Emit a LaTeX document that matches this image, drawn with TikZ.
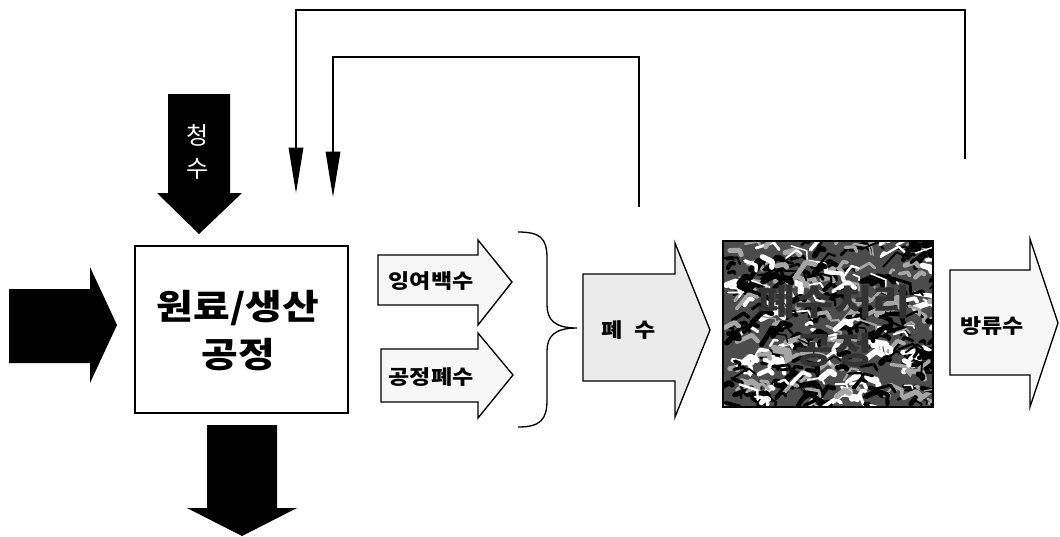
\documentclass[tikz,border=0pt]{standalone}
\usepackage{fontspec}
\newfontfamily\kr{Noto Sans CJK KR}[FakeStretch=1.15]
\newfontfamily\krn{Noto Sans CJK KR}
\usetikzlibrary{arrows.meta}
\begin{document}
\begin{tikzpicture}[x=0.75pt,y=-0.75pt,
  outl/.style={draw=black,line width=1pt,line join=miter},
  blk/.style={fill=black},
  lite/.style={outl,fill=black!3},
  lbl/.style={font=\kr\bfseries\fontsize{15}{17}\selectfont,inner sep=0pt},
  biglbl/.style={font=\kr\bfseries\fontsize{26}{36}\selectfont,align=center,inner sep=0pt},
  fb/.style={line width=0.9pt,-{Triangle[length=34pt,width=11pt]}}]
\useasboundingbox (0,0) rectangle (1060,536);

% left black input arrow
\path[blk] (9,289) -- (90,289) -- (90,267) -- (117,325) -- (90,383) -- (90,363) -- (9,363) -- cycle;
% clean water arrow
\path[blk] (168,94) -- (230,94) -- (230,193) -- (242,193) -- (199,234) -- (157,193) -- (168,193) -- cycle;
\node[font=\krn\fontsize{18}{22}\selectfont,text=white,align=center,inner sep=0pt] (cw) at (198,152) {청\\[3pt]수};
% bottom black arrow
\path[blk] (207,425) -- (277,425) -- (277,508) -- (297,508) -- (242,536) -- (187,508) -- (207,508) -- cycle;

% production process box
\node[outl,fill=white,minimum width=159.75pt,minimum height=125.25pt] (prod) at (241.5,329.5) {};
\node[biglbl] (prodt) at (238,331) {원료/생산\\공정};

% 잉여백수 arrow
\draw[lite] (378,255) -- (478,255) -- (478,240) -- (512,282) -- (478,325) -- (478,305) -- (378,305) -- cycle;
\node[lbl] (surplus) at (431,281) {잉여백수};
% 공정폐수 arrow
\draw[lite] (381,349) -- (478,349) -- (478,333) -- (513,375) -- (478,418) -- (478,402) -- (381,402) -- cycle;
\node[lbl] (procww) at (431,377) {공정폐수};

% brace
\draw[line width=1pt] (518,232) .. controls (540,232) and (547,238) .. (547,258) -- (547,305)
  .. controls (547,320) and (555,328) .. (577,328)
  .. controls (555,328) and (547,336) .. (547,351) -- (547,400)
  .. controls (547,420) and (540,427) .. (518,427);

% 폐수 arrow
\draw[outl,fill=black!8] (583,274) -- (675,274) -- (675,243) -- (710,330) -- (675,417) -- (675,381) -- (583,381) -- cycle;
\node[lbl] (ww) at (629,330) {폐\hspace{0.6em}수};

% treatment box with texture
\begin{scope}
  \clip (723,241) rectangle (933,407);
  \fill[black!70] (723,241) rectangle (933,407);
  \pgfmathsetseed{11}
  \foreach \i in {1,...,420}{
    \pgfmathsetmacro{\px}{723+rnd*210}
    \pgfmathsetmacro{\py}{241+rnd*166}
    \pgfmathsetmacro{\ang}{-60+rnd*90}
    \pgfmathsetmacro{\len}{4+rnd*16}
    \pgfmathsetmacro{\wd}{1+rnd*3.5}
    \pgfmathsetmacro{\col}{mod(\i,4)==0 ? 0 : (mod(\i,4)==1 ? 100 : (mod(\i,4)==2 ? 100 : 35))}
    \draw[black!\col,line width=\wd pt,line cap=round,line join=round] (\px,\py) -- ++(\ang:\len) -- ++(\ang+70:\len*0.5);
  }
\end{scope}
\node[draw=black,line width=1.2pt,minimum width=157.5pt,minimum height=124.5pt] (treat) at (828,324) {};
\node[font=\kr\bfseries\fontsize{27}{36}\selectfont,align=center,inner sep=0pt,text=black!80] (treatt) at (834,326) {폐수처리\\공정};

% 방류수 arrow
\draw[lite] (950,270) -- (1030,270) -- (1030,239) -- (1058,323) -- (1030,407) -- (1030,375) -- (950,375) -- cycle;
\node[lbl] (disch) at (992,326) {방류수};

% feedback lines
\coordinate (s1) at (639,207);
\coordinate (c1a) at (639,57);
\coordinate (c1b) at (333,57);
\coordinate (e1) at (333,197);
\coordinate (s2) at (965,159);
\coordinate (c2a) at (965,10);
\coordinate (c2b) at (296,10);
\coordinate (e2) at (296,193);
\draw[fb] (s1) -- (c1a) -- (c1b) -- (e1);
\draw[fb] (s2) -- (c2a) -- (c2b) -- (e2);
\end{tikzpicture}
\end{document}
